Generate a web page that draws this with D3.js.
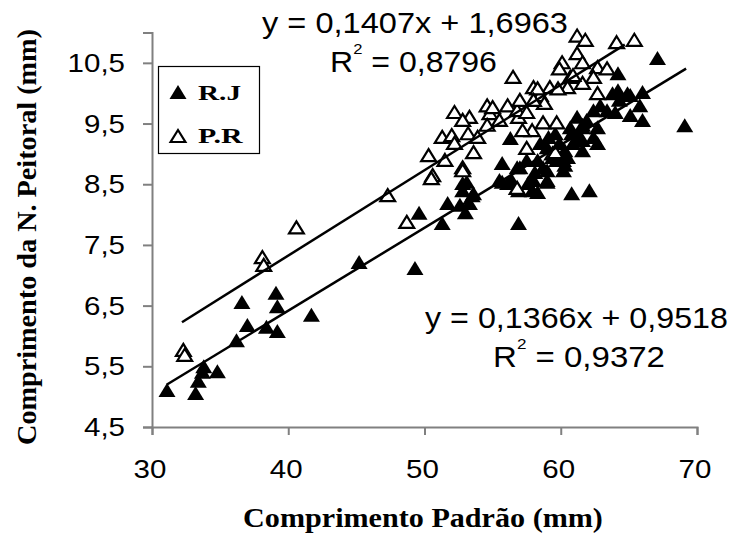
<!DOCTYPE html>
<html>
<head>
<meta charset="utf-8">
<script src="https://cdn.jsdelivr.net/npm/d3@7/dist/d3.min.js"></script>
<style>
  html, body { margin: 0; padding: 0; background: #fff; }
  svg { display: block; }
</style>
</head>
<body>
<svg id="chart" width="735" height="535"></svg>
<script>
// Standard length (mm) vs pectoral fin length (mm), two populations

const seriesNames = ["R.J", "P.R"];

// R.J (filled triangles)
const rjX = [31.1, 33.2, 33.4, 33.7, 33.8, 34.8, 36.2, 36.6, 37.0, 38.4, 39.1, 39.2, 39.2, 41.7, 45.2,
  49.3, 49.6, 51.3, 51.7, 52.6, 53.0, 52.8, 53.5, 53.3, 56.9, 55.7, 55.7, 56.3, 56.8, 57.0,
  57.5, 57.9, 58.0, 58.5, 58.7, 59.0, 59.1, 59.6, 59.9, 60.2, 60.3, 60.8, 62.1, 60.7, 61.2,
  61.4, 61.6, 62.4, 62.7, 62.9, 63.8, 64.2, 64.3, 64.9, 65.1, 66.0, 65.8, 66.0, 67.1, 69.1,
  61.9, 61.6, 62.7, 62.4, 61.6, 60.9, 60.2, 59.4, 59.0, 58.3, 58.1, 57.6, 56.8, 56.4, 55.5,
  56.9, 59.0, 58.3, 53.1, 52.8, 53.6, 63.4, 64.0, 65.1, 64.2, 61.6, 59.9, 60.5, 59.7, 59.0,
  60.3, 60.8, 56.1];
const rjY = [5.11, 5.06, 5.26, 5.41, 5.50, 5.42, 5.93, 6.56, 6.18, 6.15, 6.71, 6.49, 6.08, 6.35, 7.22,
  7.12, 8.03, 7.86, 8.19, 8.16, 8.04, 8.52, 8.32, 8.19, 7.86, 8.85, 8.54, 9.26, 8.44, 8.78,
  8.90, 8.40, 8.57, 9.18, 8.78, 8.57, 9.28, 9.34, 8.90, 8.73, 9.06, 8.35, 8.40, 9.44, 9.61,
  9.28, 9.06, 9.72, 9.18, 9.80, 10.00, 10.33, 9.89, 10.00, 9.64, 10.02, 9.80, 9.56, 10.58, 9.47,
  9.56, 9.48, 9.44, 9.28, 9.23, 9.18, 8.90, 8.95, 8.73, 8.90, 8.70, 8.52, 8.78, 8.57, 8.57,
  8.40, 8.54, 8.37, 8.54, 8.40, 8.35, 9.72, 9.69, 9.97, 10.05, 9.44, 9.18, 8.95, 8.90, 9.11,
  8.82, 9.34, 8.52];

// P.R (open triangles)
const prX = [32.3, 32.4, 38.1, 38.2, 40.6, 47.3, 48.7, 50.3, 50.6, 50.5, 51.5, 51.3, 52.0, 53.2,
  53.9, 52.2, 53.6, 52.8, 52.8, 52.2, 53.3, 52.8, 54.8, 54.6, 55.0, 56.1, 55.5, 56.9, 56.8,
  57.5, 54.6, 56.5, 57.0, 58.0, 58.5, 58.7, 59.7, 57.9, 57.5, 59.4, 59.6, 56.8, 57.2,
  60.1, 61.2, 61.6, 62.7, 63.4, 59.9, 60.7, 62.4, 59.2, 60.5, 61.6, 62.7, 58.3, 59.8, 58.8,
  58.0, 60.9, 61.2, 61.8, 64.1, 65.4];
const prY = [5.77, 5.69, 7.30, 7.17, 7.79, 8.32, 7.88, 8.98, 8.65, 8.60, 8.90, 9.28, 9.31, 9.34,
  9.28, 9.18, 9.03, 8.78, 8.73, 9.69, 9.61, 9.56, 9.67, 9.80, 9.77, 9.80, 9.56, 9.61, 9.72,
  9.69, 9.48, 10.27, 9.89, 10.10, 9.97, 9.52, 9.52, 9.39, 9.10, 9.01, 9.03, 8.44, 9.39,
  10.51, 10.66, 10.51, 10.43, 10.41, 10.41, 10.27, 10.27, 10.10, 10.10, 10.17, 10.00, 10.08, 10.08, 9.84,
  9.89, 10.30, 10.95, 10.88, 10.84, 10.88];

// Linear fits: [R.J, P.R]
const fitSlope = [0.1366, 0.1407];
const fitIntercept = [0.9518, 1.6963];
const fitR2 = [0.9372, 0.8796];
const fitFrom = [31.1, 32.2];
const fitTo = [69.2, 64.7];

// Axis ticks
const xTicks = [30, 40, 50, 60, 70];
const yTicks = [4.5, 5.5, 6.5, 7.5, 8.5, 9.5, 10.5];

const xTitle = "Comprimento Padrão (mm)";
const yTitle = "Comprimento da N. Peitoral (mm)";

// ---------------------------------------------------------------
const svg = d3.select("#chart");
const plot = { left: 152, right: 697, top: 32.5, bottom: 427 };

const x = d3.scaleLinear().domain([30, 70]).range([plot.left, plot.right]);
const y = d3.scaleLinear().domain([4.5, 11]).range([plot.bottom, plot.top]);

const ptBR = d3.formatLocale({ decimal: ",", thousands: ".", grouping: [3], currency: ["", ""] });
const f1 = ptBR.format(".1f");
const f4 = ptBR.format(".4f");

const sans = "'Liberation Sans', Arial, sans-serif";
const serif = "'Liberation Serif', 'Times New Roman', serif";
const axisColor = "#808080";

// stretch a text group horizontally so that it spans the given width
function fitText(g, width) {
  const t = g.select("text");
  const w = t.node().getBBox().width;
  const k = width / w;
  const cur = g.attr("data-pos");
  g.attr("transform", cur + ` scale(${k},1)`);
}

// Axes
const xAxis = svg.append("g")
  .attr("transform", `translate(0,${plot.bottom})`)
  .call(d3.axisBottom(x).tickValues(xTicks).tickSize(8).tickFormat(""));
const yAxis = svg.append("g")
  .attr("transform", `translate(${plot.left},0)`)
  .call(d3.axisLeft(y).tickValues(yTicks).tickSize(9).tickFormat(""));
[xAxis, yAxis].forEach(a => {
  a.select(".domain").attr("stroke", axisColor).attr("stroke-width", 2);
  a.selectAll(".tick line").attr("stroke", axisColor).attr("stroke-width", 2);
});

// Tick labels (horizontally widened)
const tickK = 1.18;
svg.append("g").selectAll("g").data(xTicks).join("g")
  .attr("transform", d => `translate(${x(d) - 2},478) scale(${tickK},1)`)
  .append("text")
  .attr("text-anchor", "middle")
  .attr("font-family", sans).attr("font-size", 25)
  .text(d => d);

svg.append("g").selectAll("g").data(yTicks).join("g")
  .attr("transform", d => `translate(125,${y(d) + 9}) scale(${tickK},1)`)
  .append("text")
  .attr("text-anchor", "end")
  .attr("font-family", sans).attr("font-size", 25)
  .text(d => f1(d));

// Axis titles
const xt = svg.append("g").attr("data-pos", "translate(423,527)");
xt.append("text").attr("text-anchor", "middle")
  .attr("font-family", serif).attr("font-weight", "bold").attr("font-size", 28)
  .text(xTitle);
fitText(xt, 360);

const yt = svg.append("g").attr("data-pos", "translate(36,237) rotate(-90)");
yt.append("text").attr("text-anchor", "middle")
  .attr("font-family", serif).attr("font-weight", "bold").attr("font-size", 28)
  .text(yTitle);
fitText(yt, 416);

// Markers
const filledTri = "M0,-7L8.5,7L-8.5,7Z";
const openTri = "M0,-6L7.4,6L-7.4,6Z";

const rjData = rjX.map((v, i) => [v, rjY[i]]);
const prData = prX.map((v, i) => [v, prY[i]]);

svg.append("g").selectAll("path").data(rjData).join("path")
  .attr("d", filledTri)
  .attr("transform", d => `translate(${x(d[0])},${y(d[1])})`)
  .attr("fill", "#000");

svg.append("g").selectAll("path").data(prData).join("path")
  .attr("d", openTri)
  .attr("transform", d => `translate(${x(d[0])},${y(d[1])})`)
  .attr("fill", "#fff").attr("stroke", "#000").attr("stroke-width", 2.2)
  .attr("stroke-linejoin", "miter");

// Trend lines
const fits = fitSlope.map((m, i) => ({ m, b: fitIntercept[i], r2: fitR2[i], from: fitFrom[i], to: fitTo[i] }));
svg.append("g").selectAll("line").data(fits).join("line")
  .attr("x1", d => x(d.from)).attr("y1", d => y(d.m * d.from + d.b))
  .attr("x2", d => x(d.to)).attr("y2", d => y(d.m * d.to + d.b))
  .attr("stroke", "#000").attr("stroke-width", 2.5);

// Equation labels: [R.J, P.R]
const eqPos = [
  { cx: 576.5, eqY: 328, eqW: 303, r2cx: 579, r2Y: 367, r2W: 172 },
  { cx: 415, eqY: 33, eqW: 306, r2cx: 413.5, r2Y: 72, r2W: 167 }
];
fits.forEach((d, i) => {
  const p = eqPos[i];
  const g1 = svg.append("g").attr("data-pos", `translate(${p.cx},${p.eqY})`);
  g1.append("text").attr("text-anchor", "middle")
    .attr("font-family", sans).attr("font-size", 29)
    .text(`y = ${f4(d.m)}x + ${f4(d.b)}`);
  fitText(g1, p.eqW);

  const g2 = svg.append("g").attr("data-pos", `translate(${p.r2cx},${p.r2Y})`);
  const t2 = g2.append("text").attr("text-anchor", "middle")
    .attr("font-family", sans).attr("font-size", 29);
  t2.append("tspan").text("R");
  t2.append("tspan").attr("font-size", 15).attr("dy", -18).text("2");
  t2.append("tspan").attr("dy", 18).text(` = ${f4(d.r2)}`);
  fitText(g2, p.r2W);
});

// Legend
const legend = svg.append("g");
legend.append("rect")
  .attr("x", 158.5).attr("y", 66.5).attr("width", 101).attr("height", 87)
  .attr("fill", "#fff").attr("stroke", "#000").attr("stroke-width", 1.2);
const legendRows = [
  { name: seriesNames[0], cy: 92, labelY: 100, filled: true },
  { name: seriesNames[1], cy: 136, labelY: 143, filled: false }
];
legendRows.forEach(r => {
  legend.append("path")
    .attr("d", r.filled ? filledTri : openTri)
    .attr("transform", `translate(178,${r.cy})`)
    .attr("fill", r.filled ? "#000" : "#fff")
    .attr("stroke", r.filled ? "none" : "#000")
    .attr("stroke-width", 2.2);
  const lg = legend.append("g").attr("data-pos", `translate(198,${r.labelY})`);
  lg.append("text").attr("font-family", serif).attr("font-weight", "bold")
    .attr("font-size", 22).text(r.name);
  fitText(lg, r.name === "R.J" ? 43 : 46);
});
</script>
</body>
</html>
